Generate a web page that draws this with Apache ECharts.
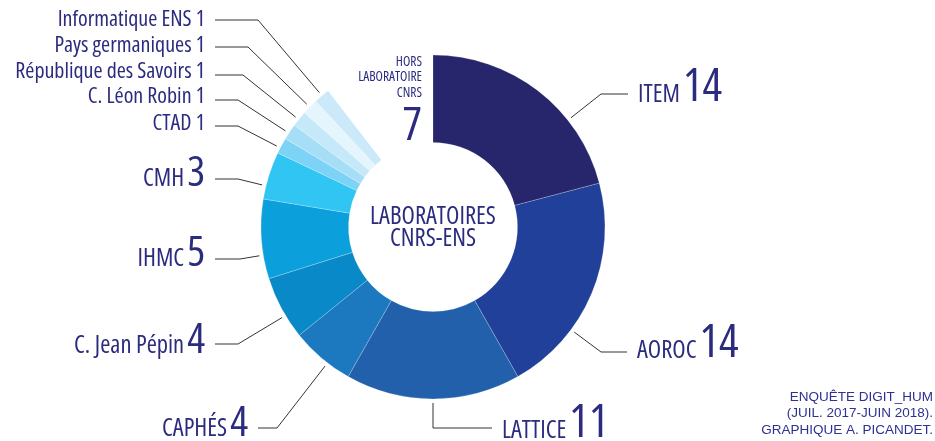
<!DOCTYPE html>
<html>
<head>
<meta charset="utf-8">
<script src="https://cdn.jsdelivr.net/npm/echarts@6/dist/echarts.min.js"></script>
<style>
html, body { margin: 0; padding: 0; background: #fff; }
#chart { width: 935px; height: 441px; }
</style>
</head>
<body>
<div id="chart"></div>
<script>
// données
const labs = ['ITEM', 'AOROC', 'LATTICE', 'CAPHÉS', 'C. Jean Pépin', 'IHMC', 'CMH', 'CTAD',
  'C. Léon Robin', 'République des Savoirs', 'Pays germaniques', 'Informatique ENS'];
const counts = [14, 14, 11, 4, 4, 5, 3, 1, 1, 1, 1, 1];
const horsName = 'HORS LABORATOIRE CNRS';
const horsCount = 7;

const colors = ['#27256b', '#21409a', '#2360ab', '#1c78bf', '#0a89c9', '#0ba0db', '#31c5f4',
  '#7dd3f5', '#a6def7', '#c6e9f9', '#e5f5fd', '#cbe9f9'];

// repères des étiquettes : coude x, coude y, fin du trait x, ligne de base du texte
const guides = [
  [601, 94, 628, 102],
  [601, 352, 627, 358],
  [433, 428, 492, 438],
  [277, 428, 258, 437],
  [238, 344, 215, 354],
  [240, 259, 215, 267],
  [238, 179, 215, 187],
  [238, 126, 215, 130],
  [238, 100, 215, 103],
  [243, 75, 215, 78],
  [248, 47, 215, 52],
  [258, 20, 215, 26]
];

const cx = 433, cy = 227;
const ink = '#2b2b7f';
const cond = "'Open Sans'";
const st = 'condensed'; // passe dans le raccourci font du canvas

const chart = echarts.init(document.getElementById('chart'));

const data = labs.map((name, i) => ({
  name: name,
  value: counts[i],
  itemStyle: { color: colors[i] }
}));
data.push({
  name: horsName,
  value: horsCount,
  itemStyle: { color: 'rgba(0,0,0,0)', borderWidth: 0 },
  labelLine: { show: false }
});

function tok(size, extra) {
  return Object.assign({ fontSize: size, fontFamily: cond, fontWeight: st, color: ink }, extra || {});
}

chart.setOption({
  animation: false,
  series: [{
    type: 'pie',
    center: [cx, cy],
    radius: [84.5, 172],
    startAngle: 90,
    clockwise: true,
    avoidLabelOverlap: false,
    silent: true,
    itemStyle: { borderColor: 'rgba(255,255,255,0.35)', borderWidth: 0.6 },
    label: {
      show: true,
      position: 'outside',
      overflow: 'none',
      color: ink,
      fontFamily: cond,
      fontWeight: st,
      formatter: function (p) {
        if (p.dataIndex === labs.length) {
          return p.name.split(' ').map(w => '{h|' + w + '}').join('\n') + '\n{h7|' + p.value + '}';
        }
        if (p.value < 3) return '{n|' + p.name + ' ' + p.value + '}';
        const k = p.value >= 10 ? 'big' : 'mid';
        return '{nb|' + p.name + '}{' + k + '|' + p.value + '}';
      },
      rich: {
        n: tok(22, { verticalAlign: 'bottom', lineHeight: 28 }),
        nb: tok(24.5, { verticalAlign: 'bottom', lineHeight: 30, padding: [0, 0, 4, 0] }),
        mid: tok(42, { verticalAlign: 'bottom', lineHeight: 44, padding: [0, 0, 0, 3] }),
        big: tok(46, { verticalAlign: 'bottom', lineHeight: 46, padding: [0, 0, 0, 3] }),
        h: tok(13.5, { lineHeight: 15.5, align: 'right' }),
        h7: tok(46, { lineHeight: 52, align: 'right' })
      }
    },
    labelLine: {
      show: true,
      lineStyle: { color: '#333', width: 1 }
    },
    labelLayout: function (p) {
      const g = guides[p.dataIndex];
      if (!g) {
        return { x: 422, y: 54, align: 'right', verticalAlign: 'top' };
      }
      const p0 = p.labelLinePoints[0];
      const r = Math.hypot(p0[0] - cx, p0[1] - cy) + 4;
      const dx = g[0] - cx, dy = g[1] - cy, d = Math.hypot(dx, dy);
      const start = [cx + dx / d * r, cy + dy / d * r];
      const left = g[2] < g[0];
      const v = counts[p.dataIndex];
      return {
        x: left ? g[2] - 10 : g[2] + 10,
        y: g[3] + (v < 3 ? 4.4 : v >= 10 ? 9.2 : 8.4),
        align: left ? 'right' : 'left',
        verticalAlign: 'bottom',
        labelLinePoints: [start, [g[0], g[1]], [g[2], g[1]]]
      };
    },
    data: data
  }],
  graphic: [
    {
      type: 'text',
      x: cx, y: cy + 1,
      silent: true,
      style: {
        text: 'LABORATOIRES\nCNRS-ENS',
        align: 'center', verticalAlign: 'middle',
        fontSize: 24.5, lineHeight: 22.5, fontFamily: cond, fontWeight: st, fill: ink
      }
    },
    {
      type: 'text',
      x: 933, y: 389,
      silent: true,
      style: {
        text: 'ENQUÊTE DIGIT_HUM\n(JUIL. 2017-JUIN 2018).\nGRAPHIQUE A. PICANDET.',
        align: 'right', verticalAlign: 'top',
        fontSize: 13.5, lineHeight: 16.5, fontFamily: "'Liberation Sans', sans-serif", fill: '#2e3192'
      }
    }
  ]
});
</script>
</body>
</html>
